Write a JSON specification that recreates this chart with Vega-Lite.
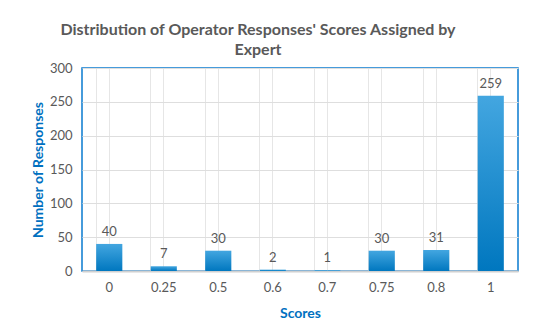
{
  "$schema": "https://vega.github.io/schema/vega-lite/v6.json",
  "autosize": {"type": "none"},
  "width": 436,
  "height": 203,
  "padding": {"left": 82, "top": 68, "right": 32, "bottom": 65},
  "background": "white",
  "title": {
    "text": ["Distribution of Operator Responses'  Scores Assigned by", "Expert"],
    "font": "Lato",
    "fontSize": 16,
    "fontWeight": "bold",
    "color": "#595959",
    "anchor": "middle",
    "dx": -42,
    "offset": 4,
    "lineHeight": 20
  },
  "data": {
    "values": [
      {"score": "0", "count": 40},
      {"score": "0.25", "count": 7},
      {"score": "0.5", "count": 30},
      {"score": "0.6", "count": 2},
      {"score": "0.7", "count": 1},
      {"score": "0.75", "count": 30},
      {"score": "0.8", "count": 31},
      {"score": "1", "count": 259}
    ]
  },
  "encoding": {
    "y": {
      "field": "count",
      "type": "quantitative",
      "scale": {"domain": [0, 300], "nice": false},
      "axis": {
        "title": "Number of Responses",
        "titleFont": "Lato",
        "titleFontSize": 14,
        "titleFontWeight": "bold",
        "titleColor": "#0070C0",
        "titlePadding": 4,
        "values": [0, 50, 100, 150, 200, 250, 300],
        "labelOverlap": false,
        "labelFont": "Lato",
        "labelFontSize": 13,
        "labelColor": "#595959",
        "labelPadding": 10,
        "ticks": false,
        "domain": false,
        "grid": true,
        "gridColor": "#DEDEDE",
        "gridWidth": 1
      }
    }
  },
  "layer": [
    {
      "mark": {
        "type": "bar",
        "color": {
          "gradient": "linear",
          "x1": 0, "y1": 0, "x2": 0, "y2": 1,
          "stops": [
            {"offset": 0, "color": "#43A6E0"},
            {"offset": 1, "color": "#0077BF"}
          ]
        }
      },
      "encoding": {
        "x": {
          "field": "score",
          "type": "ordinal",
          "sort": null,
          "scale": {"paddingInner": 0.52, "paddingOuter": 0.26},
          "axis": {
            "title": "Scores",
            "titleFont": "Lato",
            "titleFontSize": 14,
            "titleFontWeight": "bold",
            "titleColor": "#0070C0",
            "titlePadding": 12,
            "labelAngle": 0,
            "labelFont": "Lato",
            "labelFontSize": 13,
            "labelColor": "#595959",
            "labelPadding": 10,
            "ticks": false,
            "domain": true,
            "domainColor": "#D0D0D0",
            "domainWidth": 2,
            "grid": true,
            "bandPosition": 0,
            "gridColor": "#E6E6E6",
            "gridWidth": 1
          }
        }
      }
    },
    {
      "mark": {
        "type": "text",
        "baseline": "bottom",
        "dy": -5,
        "font": "Lato",
        "fontSize": 13,
        "color": "#595959"
      },
      "encoding": {
        "x": {
          "field": "score",
          "type": "ordinal",
          "sort": null,
          "axis": {
            "title": null,
            "labels": false,
            "ticks": false,
            "domain": false,
            "grid": true,
            "bandPosition": 0.5,
            "gridColor": "#E6E6E6",
            "gridWidth": 1
          }
        },
        "text": {"field": "count", "type": "quantitative"}
      }
    }
  ],
  "resolve": {"axis": {"x": "independent"}},
  "config": {
    "view": {"stroke": "#0A7BD0", "strokeWidth": 1.5}
  }
}
